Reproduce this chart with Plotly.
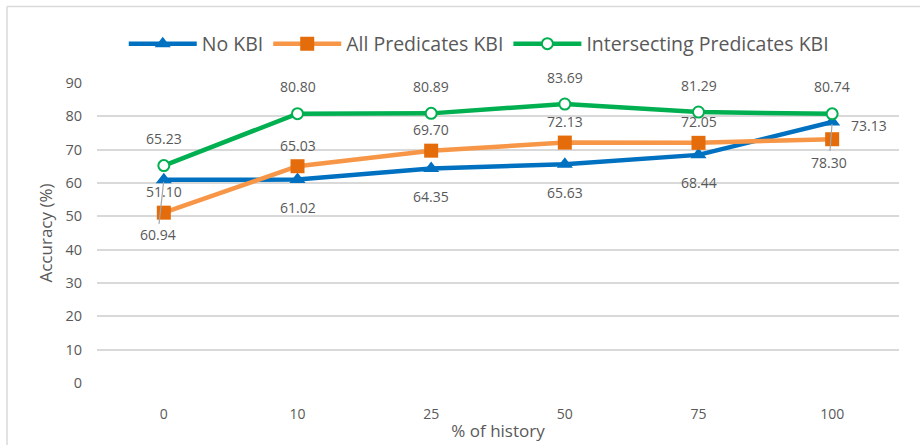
import plotly.graph_objects as go

categories = ["0", "10", "25", "50", "75", "100"]
no_kbi = [60.94, 61.02, 64.35, 65.63, 68.44, 78.30]
all_pred = [51.10, 65.03, 69.70, 72.13, 72.05, 73.13]
inter_pred = [65.23, 80.80, 80.89, 83.69, 81.29, 80.74]
y_ticks = [0, 10, 20, 30, 40, 50, 60, 70, 80, 90]

BLUE = "#0070C0"
ORANGE_LINE = "#F79646"
ORANGE_MARK = "#E46C0A"
GREEN = "#00B050"
TXT = "#595959"
AXFONT = "Open Sans, sans-serif"
LABEL_FONT = dict(family="Open Sans, sans-serif", size=14, color=TXT)

fig = go.Figure()
fig.add_trace(go.Scatter(
    x=categories, y=no_kbi, name="No KBI", mode="lines+markers",
    line=dict(color=BLUE, width=4.5),
    marker=dict(symbol="triangle-up", size=14, color=BLUE),
))
fig.add_trace(go.Scatter(
    x=categories, y=all_pred, name="All Predicates KBI", mode="lines+markers",
    line=dict(color=ORANGE_LINE, width=4.5),
    marker=dict(symbol="square", size=14, color=ORANGE_MARK),
))
fig.add_trace(go.Scatter(
    x=categories, y=inter_pred, name="Intersecting Predicates KBI", mode="lines+markers",
    line=dict(color=GREEN, width=4.5),
    marker=dict(symbol="circle", size=11, color="white", line=dict(color=GREEN, width=2)),
))

last = len(categories) - 1
annotations = []
for i in range(len(categories)):
    annotations.append(dict(x=i, y=inter_pred[i], text=f"{inter_pred[i]:.2f}", showarrow=False,
                            yshift=27, font=LABEL_FONT))
    if i == last:
        annotations.append(dict(x=i, y=all_pred[i], text=f"{all_pred[i]:.2f}", showarrow=False,
                                xshift=37, yshift=14, font=LABEL_FONT))
    else:
        annotations.append(dict(x=i, y=all_pred[i], text=f"{all_pred[i]:.2f}", showarrow=False,
                                yshift=21, font=LABEL_FONT))
    if i == 0:
        annotations.append(dict(x=i, y=no_kbi[i], text=f"{no_kbi[i]:.2f}", showarrow=True,
                                ax=-6, ay=55, arrowhead=0, arrowwidth=1.2, arrowcolor="#A6A6A6",
                                standoff=2, font=LABEL_FONT))
    elif i == last:
        annotations.append(dict(x=i, y=no_kbi[i], text=f"{no_kbi[i]:.2f}", showarrow=True,
                                ax=-3, ay=40, arrowhead=0, arrowwidth=1.2, arrowcolor="#A6A6A6",
                                standoff=2, font=LABEL_FONT))
    else:
        annotations.append(dict(x=i, y=no_kbi[i], text=f"{no_kbi[i]:.2f}", showarrow=False,
                                yshift=-28, font=LABEL_FONT))

fig.update_layout(
    width=920, height=445,
    margin=dict(l=97, r=21, t=83, b=62, autoexpand=False),
    paper_bgcolor="white", plot_bgcolor="white",
    showlegend=True,
    legend=dict(orientation="h", x=0.476, xanchor="center", y=1.13, yanchor="middle",
                font=dict(family=AXFONT, size=19.5, color=TXT), itemwidth=68,
                tracegroupgap=0, bgcolor="rgba(0,0,0,0)"),
    annotations=annotations,
    shapes=[
        dict(type="line", xref="paper", yref="paper", x0=-0.1122, x1=1.05, y0=1.255, y1=1.255,
             line=dict(color="#D9D9D9", width=1.5)),
        dict(type="line", xref="paper", yref="paper", x0=-0.1122, x1=-0.1122, y0=1.255, y1=-0.25,
             line=dict(color="#D9D9D9", width=1.5)),
    ],
)
fig.update_xaxes(
    type="category", categoryorder="array", categoryarray=categories, range=[-0.5, 5.5],
    showgrid=False, zeroline=False, showline=False, ticks="", automargin=False,
    ticklabelstandoff=21,
    tickfont=dict(family=AXFONT, size=14, color=TXT),
    title=dict(text="% of history", font=dict(family=AXFONT, size=17, color=TXT), standoff=3),
)
fig.update_yaxes(
    range=[0, 90], tickvals=y_ticks, showgrid=True, gridcolor="#D9D9D9", gridwidth=1.5,
    zeroline=False, showline=False, ticks="", ticklabelstandoff=14, automargin=False,
    tickfont=dict(family=AXFONT, size=14.5, color=TXT),
    title=dict(text="Accuracy (%)", font=dict(family=AXFONT, size=17, color=TXT), standoff=8),
)

fig.write_html("out.html", config={"displayModeBar": False},
               post_script="document.body.style.margin='0';")
